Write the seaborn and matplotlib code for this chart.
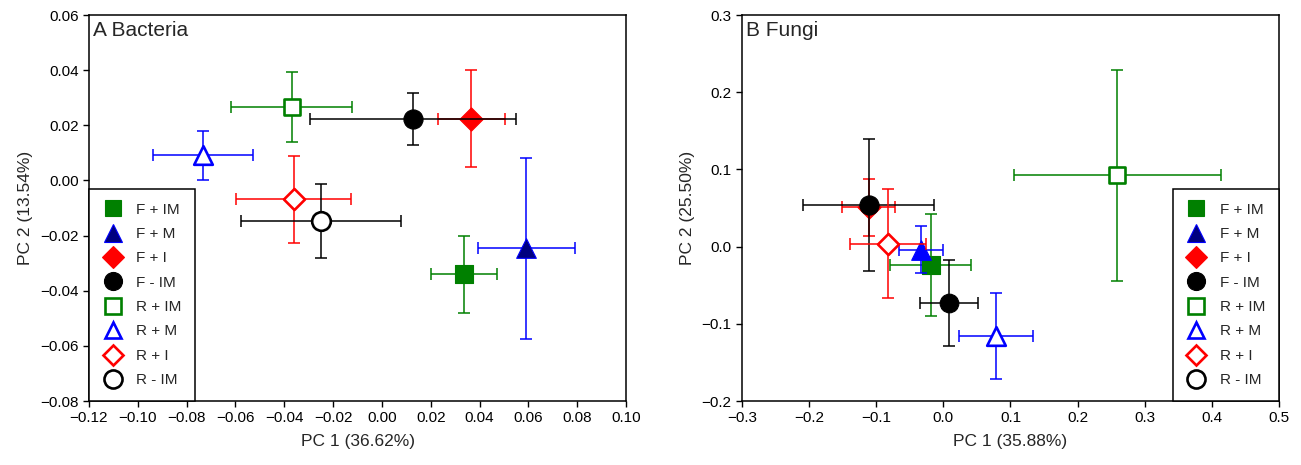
import matplotlib
matplotlib.use("Agg")
import numpy as np
import pandas as pd
import seaborn as sns
import matplotlib.pyplot as plt
from matplotlib.lines import Line2D

# treatments, in legend order
groups = ["F + IM", "F + M", "F + I", "F - IM", "R + IM", "R + M", "R + I", "R - IM"]

# A Bacteria: PCA scores (mean) and error (SE)
bac_x = [0.0336, 0.0592, 0.0366, 0.0127, -0.0370, -0.0734, -0.0361, -0.0250]
bac_y = [-0.0341, -0.0246, 0.0224, 0.0224, 0.0267, 0.0092, -0.0069, -0.0147]
bac_xerr = [0.0134, 0.0200, 0.0137, 0.0423, 0.0247, 0.0205, 0.0236, 0.0329]
bac_yerr = [0.0140, 0.0328, 0.0175, 0.0094, 0.0128, 0.0089, 0.0156, 0.0134]

# B Fungi
fun_x = [-0.0190, -0.0333, -0.1115, -0.1115, 0.2590, 0.0786, -0.0830, 0.0084]
fun_y = [-0.0238, -0.0039, 0.0510, 0.0537, 0.0922, -0.1156, 0.0039, -0.0727]
fun_xerr = [0.0605, 0.0323, 0.0395, 0.0973, 0.1540, 0.0554, 0.0565, 0.0434]
fun_yerr = [0.0663, 0.0305, 0.0368, 0.0857, 0.1363, 0.0561, 0.0708, 0.0557]

# styles
edge = ["#008000", "#0000ff", "#ff0000", "black", "#008000", "#0000ff", "#ff0000", "black"]
face = ["#008000", "#000080", "#ff0000", "black", "white", "white", "white", "white"]
marks = ["s", "^", "D", "o", "s", "^", "D", "o"]
sizes = [150, 200, 140, 190, 135, 180, 115, 180]
legsz = [12, 13, 11.5, 13, 11, 12, 10, 13]

sns.set_style("ticks")
plt.rcParams['font.family'] = ['Liberation Sans', 'DejaVu Sans']

fig = plt.figure(figsize=(13.01, 4.65), dpi=100)
axA = fig.add_axes([0.0684, 0.1376, 0.4128, 0.830])
axB = fig.add_axes([0.5703, 0.1376, 0.4128, 0.830])


def fmt(v, d):
    s = "{:.{}f}".format(round(v, 6) + 0.0, d)
    return s.replace("-", "\u2212")


def draw_panel(ax, df, faces):
    for i, row in df.iterrows():
        ax.errorbar(row.x, row.y, xerr=row.xerr, yerr=row.yerr, fmt='none',
                    ecolor=edge[i], elinewidth=1.1, capsize=4.5, capthick=1.1,
                    zorder=2 + 2 * i)
        lw = 0.8 if faces[i] != "white" else 1.9
        sns.scatterplot(x=[row.x], y=[row.y], ax=ax, marker=marks[i], s=sizes[i],
                        color=faces[i], edgecolor=edge[i], linewidth=lw,
                        zorder=3 + 2 * i, legend=False)


def style_axes(ax, xt, yt, d, xl, yl, title, loc):
    ax.set_xlim(xt[0], xt[-1])
    ax.set_ylim(yt[0], yt[-1])
    ax.set_xticks(xt)
    ax.set_yticks(yt)
    ax.set_xticklabels([fmt(v, d) for v in xt])
    ax.set_yticklabels([fmt(v, d) for v in yt])
    ax.tick_params(direction='out', length=4, width=1, colors='black', labelsize=11)
    for sp in ax.spines.values():
        sp.set_visible(True)
        sp.set_color('black')
        sp.set_linewidth(1.1)
    ax.set_xlabel(xl, fontsize=12.5, labelpad=6)
    ax.set_ylabel(yl, fontsize=12.5, labelpad=5)
    ax.text(0.008, 0.985, title, transform=ax.transAxes, va='top', ha='left', fontsize=15)
    handles = [Line2D([], [], linestyle='none', marker=marks[i], markersize=legsz[i],
                      markerfacecolor=face[i], markeredgecolor=edge[i],
                      markeredgewidth=0.8 if face[i] != "white" else 1.9)
               for i in range(len(groups))]
    leg = ax.legend(handles, groups, loc=loc, borderaxespad=0, fancybox=False,
                    framealpha=1, edgecolor='black', fontsize=11,
                    handlelength=1.3, handletextpad=0.9, borderpad=0.9,
                    labelspacing=0.68)
    leg.get_frame().set_linewidth(1.1)
    leg.set_zorder(30)


bac = pd.DataFrame({"x": bac_x, "y": bac_y, "xerr": bac_xerr, "yerr": bac_yerr})
fun = pd.DataFrame({"x": fun_x, "y": fun_y, "xerr": fun_xerr, "yerr": fun_yerr})

draw_panel(axA, bac, face)
# in panel B the F + M triangle is plain blue and R - IM is drawn filled
faceB = list(face)
faceB[1] = "#0000ff"
faceB[7] = "black"
draw_panel(axB, fun, faceB)

style_axes(axA, np.round(np.arange(-0.12, 0.1001, 0.02), 2), np.round(np.arange(-0.08, 0.0601, 0.02), 2),
           2, "PC 1 (36.62%)", "PC 2 (13.54%)", "A Bacteria", "lower left")
style_axes(axB, np.round(np.arange(-0.3, 0.501, 0.1), 1), np.round(np.arange(-0.2, 0.301, 0.1), 1),
           1, "PC 1 (35.88%)", "PC 2 (25.50%)", "B Fungi", "lower right")

plt.savefig("out.png", dpi=100)
